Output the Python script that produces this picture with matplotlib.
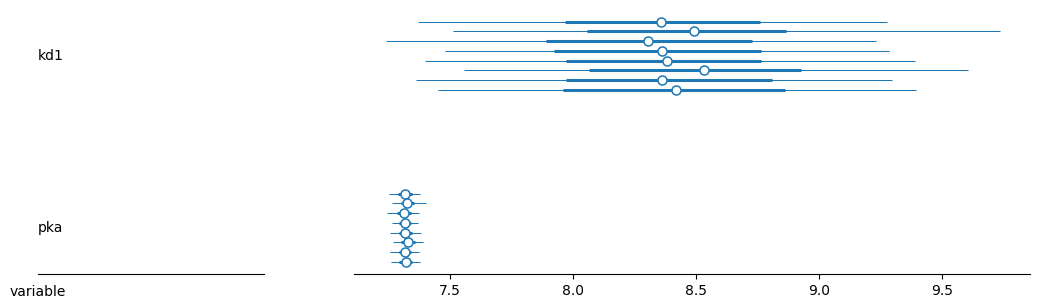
import matplotlib.pyplot as plt
import numpy as np

# Forest plot: 8 chains per variable, median + 50% / 94% intervals
variables = ["kd1", "pka"]

kd1_median = [8.358, 8.494, 8.307, 8.361, 8.381, 8.532, 8.364, 8.419]
kd1_low50 = [7.968, 8.057, 7.890, 7.921, 7.970, 8.067, 7.970, 7.961]
kd1_high50 = [8.760, 8.868, 8.728, 8.764, 8.764, 8.926, 8.809, 8.862]
kd1_low94 = [7.370, 7.512, 7.240, 7.480, 7.398, 7.557, 7.362, 7.451]
kd1_high94 = [9.276, 9.737, 9.233, 9.283, 9.392, 9.604, 9.296, 9.396]

pka_median = [7.317, 7.326, 7.313, 7.316, 7.318, 7.329, 7.317, 7.320]
pka_low50 = [7.290, 7.300, 7.285, 7.292, 7.291, 7.303, 7.291, 7.294]
pka_high50 = [7.344, 7.355, 7.340, 7.342, 7.346, 7.356, 7.343, 7.347]
pka_low94 = [7.252, 7.263, 7.243, 7.263, 7.256, 7.267, 7.256, 7.260]
pka_high94 = [7.378, 7.401, 7.374, 7.370, 7.381, 7.389, 7.375, 7.378]

color = "#1f77b4"

fig = plt.figure(figsize=(10.4, 3.07), dpi=100)
ax_lab = fig.add_axes([0.0365, 0.1075, 0.2173, 0.87])
ax = fig.add_axes([0.3404, 0.1075, 0.65, 0.87])

ylim = (-1.23, 26.13)
data = {
    "kd1": (kd1_median, kd1_low50, kd1_high50, kd1_low94, kd1_high94, 17.62),
    "pka": (pka_median, pka_low50, pka_high50, pka_low94, pka_high94, 0.0),
}
for name in variables:
    med, l50, h50, l94, h94, base = data[name]
    n = len(med)
    ys = base + np.arange(n)[::-1]
    ax.hlines(ys, l94, h94, color=color, lw=0.75)
    ax.hlines(ys, l50, h50, color=color, lw=2.2)
    ax.plot(med, ys, "o", ms=6.5, mfc="white", mec=color, mew=1.1, ls="none")
    ax_lab.text(0, ys.mean(), name, ha="left", va="center", fontsize=10)

ax.set_xlim(7.11, 9.858)
ax.set_ylim(*ylim)
ax.set_xticks([7.5, 8.0, 8.5, 9.0, 9.5])
ax.set_yticks([])
for s in ["top", "right", "left"]:
    ax.spines[s].set_visible(False)

ax_lab.set_xlim(0, 1)
ax_lab.set_ylim(*ylim)
ax_lab.set_xticks([])
ax_lab.set_yticks([])
for s in ["top", "right", "left"]:
    ax_lab.spines[s].set_visible(False)
ax_lab.text(0, -0.04, "variable", transform=ax_lab.transAxes, ha="center", va="top", fontsize=10)

plt.savefig("out.png")
